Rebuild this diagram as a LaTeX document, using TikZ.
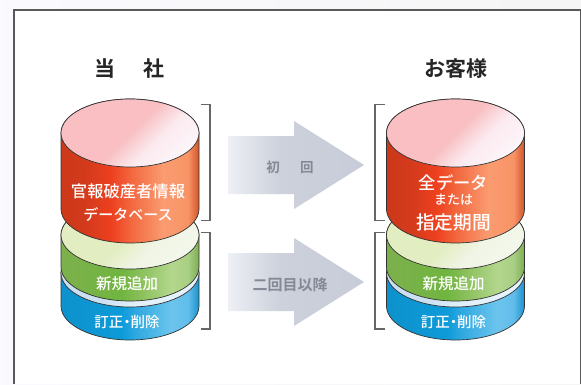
\documentclass[tikz,border=0pt]{standalone}
\usepackage{fontspec}
\setmainfont{Noto Sans CJK JP Medium}
\newfontfamily\jpbold{Noto Sans CJK JP Bold}
\usetikzlibrary{calc}
\definecolor{edgegray}{HTML}{333333}
\definecolor{brk}{HTML}{666666}
\definecolor{arrowtxt}{HTML}{858995}
% the visible part of a shading is its central 25bp to 75bp
\pgfdeclarehorizontalshading{redside}{100bp}{
 rgb(0bp)=(.80,.22,.10);rgb(25bp)=(.80,.22,.10);rgb(34bp)=(.83,.23,.11);rgb(43bp)=(.93,.25,.12);rgb(50bp)=(.95,.40,.24);rgb(62bp)=(.98,.61,.44);rgb(71bp)=(.97,.58,.40);rgb(75bp)=(.82,.33,.16);rgb(100bp)=(.82,.33,.16)}
\pgfdeclarehorizontalshading{greenside}{100bp}{
 rgb(0bp)=(.49,.69,.30);rgb(25bp)=(.49,.69,.30);rgb(47bp)=(.44,.71,.25);rgb(52bp)=(.52,.74,.33);rgb(65bp)=(.70,.84,.55);rgb(71bp)=(.66,.81,.52);rgb(75bp)=(.49,.68,.32);rgb(100bp)=(.49,.68,.32)}
\pgfdeclarehorizontalshading{blueside}{100bp}{
 rgb(0bp)=(.05,.57,.80);rgb(25bp)=(.05,.57,.80);rgb(47bp)=(.05,.61,.85);rgb(52bp)=(.18,.66,.88);rgb(65bp)=(.42,.77,.93);rgb(71bp)=(.38,.74,.92);rgb(75bp)=(.10,.57,.80);rgb(100bp)=(.10,.57,.80)}
\pgfdeclarehorizontalshading{pinktop}{100bp}{
 rgb(0bp)=(.975,.75,.76);rgb(50bp)=(.975,.75,.76);rgb(62bp)=(.985,.92,.94);rgb(75bp)=(.99,.96,.98);rgb(100bp)=(.99,.96,.98)}
\pgfdeclarehorizontalshading{greentop}{100bp}{
 rgb(0bp)=(.89,.93,.76);rgb(50bp)=(.89,.93,.76);rgb(62bp)=(.94,.96,.90);rgb(75bp)=(.95,.97,.92);rgb(100bp)=(.95,.97,.92)}
\pgfdeclarehorizontalshading{bluetop}{100bp}{
 rgb(0bp)=(.77,.86,.94);rgb(50bp)=(.80,.88,.95);rgb(62bp)=(.88,.94,.98);rgb(75bp)=(.90,.95,.99);rgb(100bp)=(.90,.95,.99)}
\pgfdeclarehorizontalshading{arrowfill}{100bp}{
 rgb(0bp)=(.93,.94,.96);rgb(25bp)=(.93,.94,.96);rgb(44bp)=(.80,.82,.86);rgb(75bp)=(.78,.80,.85);rgb(100bp)=(.78,.80,.85)}
\tikzset{
 sidepart/.style={draw=edgegray,line width=.7pt},
 toppart/.style={draw=edgegray,line width=.7pt},
 bluetxt/.style={text=white,font=\fontsize{14.5pt}{15pt}\selectfont,inner sep=0pt},
 celltxt/.style={text=white,inner sep=0pt},
 headtxt/.style={text=black!85,inner sep=0pt,font=\jpbold\fontsize{21pt}{22pt}\selectfont},
 arrowlabel/.style={text=arrowtxt,inner sep=0pt,font=\jpbold\fontsize{13.5pt}{14pt}\selectfont},
 bracketline/.style={draw=brk,line width=1.1pt},
 flowarrow/.style={shading=arrowfill,draw=none}
}
\newcommand{\cylpart}[5]{
 \path[sidepart,shading=#4] (#1-69,#2) -- (#1-69,#3) arc[start angle=180,end angle=360,x radius=69,y radius=34] -- (#1+69,#2) arc[start angle=0,end angle=180,x radius=69,y radius=34] -- cycle;
 \path[toppart,shading=#5,shading angle=-45] (#1,#2) ellipse[x radius=69,y radius=34];
}
\newcommand{\stackcyl}[1]{
 \cylpart{#1}{111}{78}{blueside}{bluetop}
 \cylpart{#1}{149}{117}{greenside}{greentop}
 \cylpart{#1}{251}{175}{redside}{pinktop}
}
\newcommand{\flowshape}[1]{
 \path[flowarrow] (228,#1+29) -- (294,#1+29) -- (294,#1+44) -- (364,#1) -- (294,#1-44) -- (294,#1-29) -- (228,#1-29) -- cycle;
}
\begin{document}
\begin{tikzpicture}[x=1pt,y=1pt]
\useasboundingbox (0,0) rectangle (581,384);
\path[left color=black!9!blue!2!white,right color=black!4!white] (0,0) rectangle (581,384);
\fill[white] (14,0) rectangle (580,374);
\draw[draw=black!65,line width=1.4pt] (14,0) -- (14,374) -- (580.3,374) -- (580.3,0);
% headings
\node[headtxt] (hl) at (129.5,315) {当\hspace{28pt}社};
\node[headtxt] (hr) at (455.5,315) {お客様};
% cylinders
\stackcyl{130}
\stackcyl{455.5}
% brackets
\draw[bracketline] (201,279.5) -- (210,279.5) -- (210,163.5) -- (201,163.5);
\draw[bracketline] (201,151.3) -- (210,151.3) -- (210,55) -- (201,55);
\draw[bracketline] (384.5,279.5) -- (375,279.5) -- (375,163.5) -- (384.5,163.5);
\draw[bracketline] (384.5,151.3) -- (375,151.3) -- (375,55) -- (384.5,55);
% arrows
\flowshape{219}
\flowshape{102}
\node[arrowlabel] (a1) at (290,217) {初\hspace{1.5em}回};
\node[arrowlabel,font=\jpbold\fontsize{15pt}{16pt}\selectfont] (a2) at (290,99) {二回目以降};
% left labels
\node[celltxt,font=\fontsize{16.3pt}{17pt}\selectfont] (l1) at (128,193) {官報破産者情報};
\node[celltxt,font=\fontsize{15pt}{16pt}\selectfont] (l2) at (128,169) {データベース};
\node[bluetxt,font=\fontsize{15.5pt}{16pt}\selectfont] (l3) at (127,100) {新規追加};
\node[bluetxt] (l4) at (127,62) {訂正\kern-.25em・\kern-.25em削除};
% right labels
\node[celltxt,font=\fontsize{17.3pt}{18pt}\selectfont] (r1) at (453.5,201) {全データ};
\node[celltxt,font=\fontsize{13pt}{14pt}\selectfont] (r2) at (453.5,184) {または};
\node[celltxt,font=\fontsize{18.7pt}{19pt}\selectfont] (r3) at (453.5,162) {指定期間};
\node[bluetxt,font=\fontsize{15.5pt}{16pt}\selectfont] (r4) at (453.5,100) {新規追加};
\node[bluetxt] (r5) at (453.5,62) {訂正\kern-.25em・\kern-.25em削除};
\end{tikzpicture}
\end{document}
